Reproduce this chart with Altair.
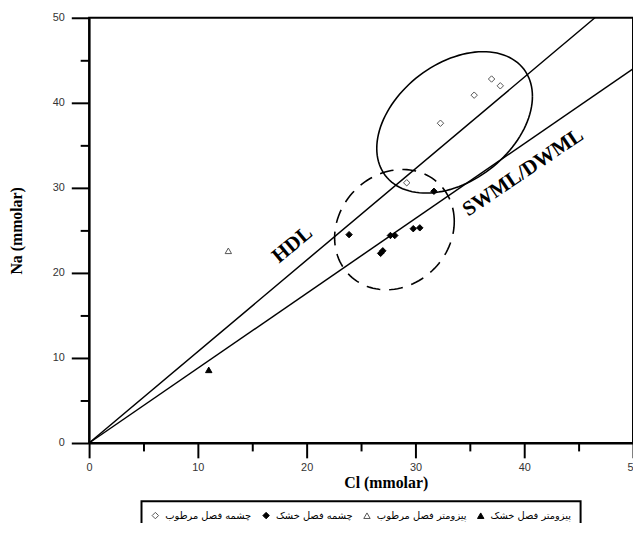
import altair as alt
import numpy as np
import pandas as pd

# ---------------- data ----------------
series_names = ["چشمه فصل مرطوب", "چشمه فصل خشک", "پیزومتر فصل مرطوب", "پیزومتر فصل خشک"]

spring_wet_cl = [29.2, 32.3, 35.4, 37.0, 37.8]
spring_wet_na = [30.6, 37.6, 40.9, 42.8, 42.0]
spring_dry_cl = [23.9, 26.8, 27.0, 27.7, 28.1, 29.8, 30.4, 31.7]
spring_dry_na = [24.5, 22.3, 22.6, 24.4, 24.4, 25.2, 25.3, 29.6]
piezo_wet_cl = [12.8]
piezo_wet_na = [22.6]
piezo_dry_cl = [11.0]
piezo_dry_na = [8.6]

# reference lines (Na/Cl ratios)
line_names = ["HDL", "SWML/DWML"]
hdl_cl = [0, 46.5]
hdl_na = [0, 50]
swml_cl = [0, 50]
swml_na = [0, 44]

# group ellipses: centre and spread (Cl var, Na var, covariance)
solid_center = [33.6, 37.7]
solid_spread = [51.2, 69.1, 21.9]
dashed_center = [28.07, 25.09]
dashed_spread = [30.25, 50.0, 5.29]

x_major = [0, 10, 20, 30, 40, 50]
x_minor = [5, 15, 25, 35, 45]
y_major = [0, 10, 20, 30, 40, 50]
y_minor = [5, 15, 25, 35, 45]

# ---------------- tables ----------------
rows = []
for name, xs_, ys_ in [
    (series_names[0], spring_wet_cl, spring_wet_na),
    (series_names[1], spring_dry_cl, spring_dry_na),
    (series_names[2], piezo_wet_cl, piezo_wet_na),
    (series_names[3], piezo_dry_cl, piezo_dry_na),
]:
    for a, b in zip(xs_, ys_):
        rows.append({"series": name, "Cl": a, "Na": b})
pts = pd.DataFrame(rows)

lines = pd.DataFrame(
    [{"line": line_names[0], "Cl": a, "Na": b} for a, b in zip(hdl_cl, hdl_na)]
    + [{"line": line_names[1], "Cl": a, "Na": b} for a, b in zip(swml_cl, swml_na)]
)


def ellipse(center, spread, name):
    t = np.linspace(0, 2 * np.pi, 121)
    sxx, syy, sxy = spread
    a = np.sqrt(sxx)
    b = sxy / a
    c = np.sqrt(syy - b * b)
    return pd.DataFrame({
        "ell": name,
        "i": np.arange(len(t)),
        "Cl": center[0] + a * np.cos(t),
        "Na": center[1] + b * np.cos(t) + c * np.sin(t),
    })


ell_solid = ellipse(solid_center, solid_spread, "solid")
ell_dashed = ellipse(dashed_center, dashed_spread, "dashed")

labels_df = pd.DataFrame({"txt": ["HDL"], "Cl": [18.7], "Na": [23.3]})
labels_df2 = pd.DataFrame({"txt": ["SWML/DWML"], "Cl": [39.9], "Na": [31.8]})

xs = alt.Scale(domain=[0, 50], nice=False, zero=False)
ys = alt.Scale(domain=[0, 50], nice=False, zero=False)

tick_font = "Liberation Sans"
title_font = "Liberation Serif"

# ---------------- layers ----------------
ell1 = alt.Chart(ell_solid).mark_line(color="black", strokeWidth=1.6).encode(
    x=alt.X("Cl:Q", scale=xs, axis=None),
    y=alt.Y("Na:Q", scale=ys, axis=None),
    order="i:Q",
)
ell2 = alt.Chart(ell_dashed).mark_line(color="black", strokeWidth=1.6, strokeDash=[14, 9]).encode(
    x=alt.X("Cl:Q", scale=xs, axis=None),
    y=alt.Y("Na:Q", scale=ys, axis=None),
    order="i:Q",
)
ref = alt.Chart(lines).mark_line(color="black", strokeWidth=1.5).encode(
    x=alt.X("Cl:Q", scale=xs, axis=None),
    y=alt.Y("Na:Q", scale=ys, axis=None),
    detail="line:N",
)

points = alt.Chart(pts).mark_point(size=42, strokeWidth=1, opacity=1, filled=False).encode(
    x=alt.X("Cl:Q", scale=xs, axis=alt.Axis(
        values=x_major, ticks=True, tickSize=15, tickWidth=2, tickColor="black",
        tickOpacity=1,
        domainColor="black", domainWidth=2, grid=False, orient="bottom",
        labelFont=tick_font, labelFontSize=11, labelColor="#333", labelPadding=4,
        labelFlush=False,
        title="Cl (mmolar)", titleFont=title_font, titleFontSize=16,
        titleFontWeight="bold", titleColor="black", titleX=300, titleY=32,
        titleBaseline="top")),
    y=alt.Y("Na:Q", scale=ys, axis=alt.Axis(
        values=y_major, ticks=True, tickSize=18, tickWidth=2, tickColor="black",
        tickOpacity=1,
        domainColor="black", domainWidth=2, grid=False, orient="left",
        labelFont=tick_font, labelFontSize=11, labelColor="#333", labelPadding=7,
        labelFlush=False,
        title="Na (mmolar)", titleFont=title_font, titleFontSize=16,
        titleFontWeight="bold", titleColor="black", titlePadding=28)),
    shape=alt.Shape("series:N", scale=alt.Scale(
        domain=series_names, range=["diamond", "diamond", "triangle-up", "triangle-up"]),
        legend=alt.Legend(title=None)),
    fill=alt.Fill("series:N", scale=alt.Scale(
        domain=series_names, range=["white", "black", "white", "black"]),
        legend=alt.Legend(title=None)),
    stroke=alt.Stroke("series:N", scale=alt.Scale(
        domain=series_names, range=["#555", "black", "#555", "black"]),
        legend=alt.Legend(title=None)),
)

minor = alt.Chart(pts).mark_point(opacity=0).encode(
    x=alt.X("Cl:Q", scale=xs, axis=alt.Axis(
        values=x_minor, ticks=True, tickSize=8, tickWidth=2, tickColor="black",
        tickOpacity=1, domain=False,
        labels=False, grid=False, orient="bottom", title="")),
    y=alt.Y("Na:Q", scale=ys, axis=alt.Axis(
        values=y_minor, ticks=True, tickSize=9, tickWidth=2, tickColor="black",
        tickOpacity=1, domain=False,
        labels=False, grid=False, orient="left", title="")),
)

t1 = alt.Chart(labels_df).mark_text(
    font=title_font, fontSize=21, fontWeight="bold", angle=320, color="black"
).encode(
    x=alt.X("Cl:Q", scale=xs, axis=None),
    y=alt.Y("Na:Q", scale=ys, axis=None),
    text="txt:N",
)
t2 = alt.Chart(labels_df2).mark_text(
    font=title_font, fontSize=21, fontWeight="bold", angle=326, color="black"
).encode(
    x=alt.X("Cl:Q", scale=xs, axis=None),
    y=alt.Y("Na:Q", scale=ys, axis=None),
    text="txt:N",
)

chart = alt.layer(ell1, ell2, ref, minor, points, t1, t2).resolve_axis(
    x="independent", y="independent"
).properties(
    width=550,
    height=430,
    autosize=alt.AutoSizeParams(type="none"),
    padding={"left": 82, "top": 7, "right": 0, "bottom": 78},
).configure_view(
    stroke="black", strokeWidth=2
).configure_legend(
    orient="none", legendX=53, legendY=489, direction="horizontal",
    strokeColor="black", strokeWidth=2, padding=9, fillColor="white",
    labelFont="DejaVu Sans", labelFontSize=10, labelColor="black",
    symbolSize=42, symbolStrokeWidth=1, columnPadding=8, labelOffset=5,
    labelLimit=200,
)

chart.save("out.html", embed_options={"renderer": "svg", "actions": False})
